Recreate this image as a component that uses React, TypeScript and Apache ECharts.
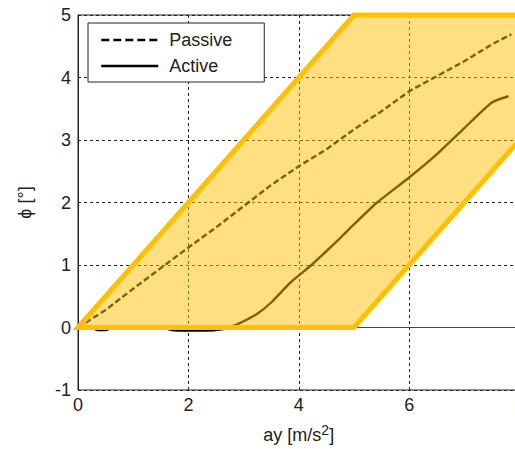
import React, { useEffect, useRef } from "react";
import * as echarts from "echarts";

const passiveX = [0, 0.5, 1, 1.5, 2, 2.5, 3, 3.5, 4, 4.5, 5, 5.5, 6, 6.5, 7, 7.5, 7.85];
const passiveY = [0, 0.28, 0.62, 0.95, 1.28, 1.6, 1.94, 2.28, 2.58, 2.85, 3.17, 3.46, 3.78, 4.02, 4.26, 4.53, 4.69];

const activeX = [0, 0.25, 0.35, 0.5, 0.6, 1, 1.5, 1.7, 2.0, 2.3, 2.6, 2.8, 3, 3.25, 3.5, 3.85, 4.23, 4.5, 4.75, 5, 5.42, 6, 6.5, 7, 7.5, 7.8];
const activeY = [0, -0.01, -0.04, -0.04, -0.01, 0, 0, -0.04, -0.05, -0.05, -0.03, 0.02, 0.1, 0.22, 0.4, 0.72, 1.0, 1.22, 1.43, 1.65, 2.0, 2.4, 2.77, 3.19, 3.6, 3.7];

const regionX = [0, 5, 10, 5];
const regionY = [0, 5, 5, 0];

const xTicks = { min: 0, max: 8, interval: 2 };
const yTicks = { min: -1, max: 5, interval: 1 };

const FONT = "'Liberation Sans', Arial, sans-serif";

export default function App() {
  const ref = useRef<HTMLDivElement>(null);
  useEffect(() => {
    if (!ref.current) return;
    const chart = echarts.init(ref.current, null, { renderer: "svg" });
    const gridDash = { color: "#222", width: 1, type: [3, 3] as any };
    chart.setOption({
      animation: false,
      backgroundColor: "#fff",
      grid: {
        left: 78,
        top: 15,
        right: 10.5,
        bottom: 59,
        show: true,
        borderColor: "#222",
        borderWidth: 1,
        backgroundColor: "transparent",
      },
      legend: {
        show: true,
        data: [
          { name: "Passive", lineStyle: { type: [8, 4], width: 2.5, color: "#000" } },
          { name: "Active", lineStyle: { type: "solid", width: 2.5, color: "#000" } },
        ],
        orient: "vertical",
        left: 88,
        top: 23,
        padding: [7, 32, 6, 12],
        backgroundColor: "#fff",
        borderColor: "#222",
        borderWidth: 1,
        borderRadius: 0,
        itemWidth: 57,
        itemHeight: 14,
        itemGap: 6,
        selectedMode: false,
        itemStyle: { opacity: 0 },
        textStyle: {
          fontFamily: FONT,
          fontSize: 18,
          color: "#222",
          lineHeight: 20,
          padding: [0, 0, 0, 6],
        },
        z: 10,
      },
      xAxis: {
        type: "value",
        min: xTicks.min,
        max: xTicks.max,
        interval: xTicks.interval,
        name: "{a|ay [m/s}{s|2}{a|]}",
        nameLocation: "middle",
        nameGap: 33,
        nameTextStyle: {
          rich: {
            a: { fontFamily: FONT, fontSize: 18, color: "#222" },
            s: { fontFamily: FONT, fontSize: 14, color: "#222", padding: [0, 0, 9, 0] },
          },
        },
        axisLine: { show: true, lineStyle: { color: "#444", width: 1 } },
        axisTick: { show: false },
        axisLabel: { fontFamily: FONT, fontSize: 18, color: "#222", margin: 6 },
        splitLine: { show: true, lineStyle: gridDash },
      },
      yAxis: {
        type: "value",
        min: yTicks.min,
        max: yTicks.max,
        interval: yTicks.interval,
        name: "ϕ [°]",
        nameLocation: "middle",
        nameGap: 44,
        nameRotate: 90,
        nameTextStyle: { fontFamily: FONT, fontSize: 18, color: "#222" },
        axisLine: { show: true, lineStyle: { color: "#222", width: 1 } },
        axisTick: { show: false },
        axisLabel: { fontFamily: FONT, fontSize: 18, color: "#222", margin: 7 },
        splitLine: { show: true, lineStyle: gridDash },
      },
      series: [
        {
          name: "Passive",
          type: "line",
          data: passiveX.map((x, i) => [x, passiveY[i]]),
          showSymbol: false,
          symbol: "none",
          lineStyle: { color: "#000", width: 2.4, type: [6, 3] },
          itemStyle: { color: "#000" },
          z: 2,
        },
        {
          name: "Active",
          type: "line",
          data: activeX.map((x, i) => [x, activeY[i]]),
          showSymbol: false,
          symbol: "none",
          smooth: 0.2,
          lineStyle: { color: "#000", width: 2.4, type: "solid" },
          itemStyle: { color: "#000" },
          z: 2,
        },
        {
          name: "Region",
          type: "custom",
          data: [[0, 0]],
          z: 3,
          renderItem: (_params: any, api: any) => {
            const points = regionX.map((x, i) => api.coord([x, regionY[i]]));
            return {
              type: "polygon",
              shape: { points },
              style: {
                fill: "rgba(255,192,0,0.5)",
                stroke: "#FFC000",
                lineWidth: 5,
                lineJoin: "miter",
              },
            };
          },
        },
      ],
    });
    return () => chart.dispose();
  }, []);
  return (
    <div
      style={{
        position: "fixed",
        left: 0,
        top: 0,
        width: 515,
        height: 449,
        overflow: "hidden",
        background: "#fff",
      }}
    >
      <div ref={ref} style={{ width: 530, height: 449 }} />
    </div>
  );
}
